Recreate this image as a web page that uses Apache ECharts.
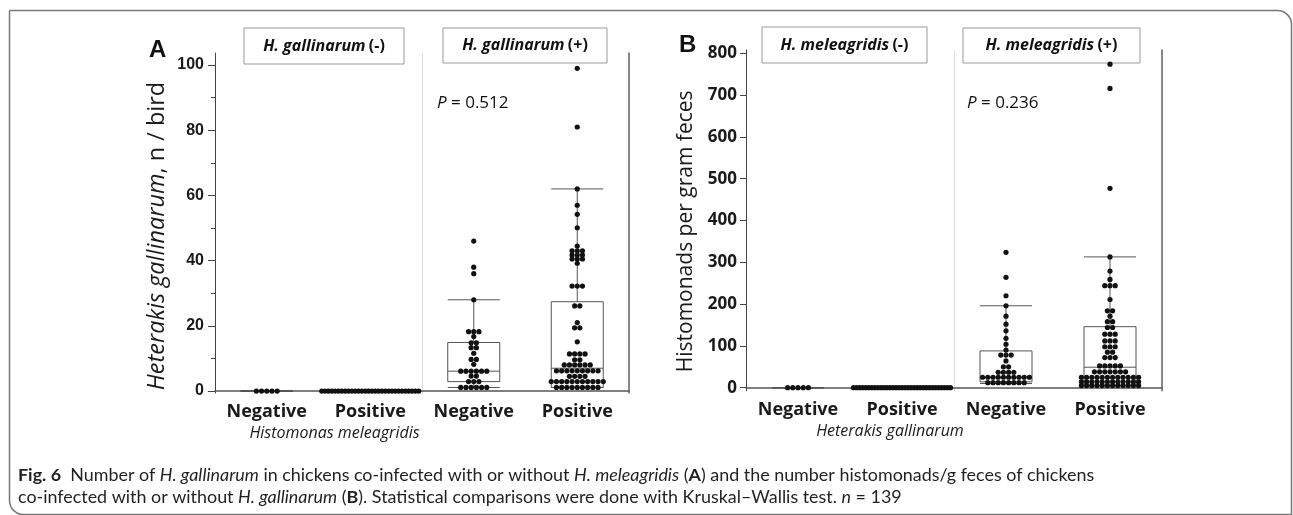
<!DOCTYPE html>
<html>
<head>
<meta charset="utf-8">
<script src="https://cdn.jsdelivr.net/npm/echarts@6/dist/echarts.min.js"></script>
<style>
  html, body { margin: 0; padding: 0; background: #fff; }
  #chart { width: 1293px; height: 515px; }
</style>
</head>
<body>
<div id="chart"></div>
<script>
// x categories (same in both panels)
const categories = ['Negative', 'Positive', 'Negative', 'Positive'];

// panel A: Heterakis gallinarum, n / bird
const aTicks = [0, 20, 40, 60, 80, 100];
const aMinorTicks = [10, 30, 50, 70, 90];
const aGalNegMelNeg = [0, 0, 0, 0, 0];
const aGalNegMelPos = [0, 0, 0, 0, 0, 0, 0, 0, 0, 0, 0, 0, 0, 0, 0, 0, 0, 0, 0, 0, 0, 0, 0, 0, 0, 0, 0, 0, 0, 0];
const aGalPosMelNeg = [46, 38, 36, 28, 18.2, 18.2, 18.2, 16.7, 14.8, 14.8, 13.3, 13.3, 11.6, 9.7, 9.7, 8.2,
  6.1, 6.1, 6.1, 6.1, 6.1, 6.1, 4.6, 4.6, 2.9, 2.9, 2.9, 1.1, 1.1, 1.1, 1.1, 1.1, 1.1];
const aGalPosMelPos = [99, 81, 62, 57, 54.2, 50.1, 44.5, 43, 43, 43, 41.7, 41.7, 41.7, 40.5, 40.5, 40.5, 39.2,
  32.2, 32.2, 32.2, 26.1, 26.1, 21, 19.4, 19.4, 15.1, 11.4, 11.4, 11.4, 11.4, 9.6, 9.6,
  8, 8, 8, 8, 8, 8, 6.2, 6.2, 6.2, 6.2, 6.2, 6.2, 6.2, 6.2, 6.2, 4.5, 4.5, 4.5, 4.5,
  2.9, 2.9, 2.9, 2.9, 2.9, 2.9, 2.9, 2.9, 2.9, 2.9, 2.9, 1.1, 1.1, 1.1, 1.1, 1.1, 1.1, 1.1, 1.1, 1.1];
// [min, Q1, median, Q3, max]
const aBoxes = [[0, 0, 0, 0, 0], [0, 0, 0, 0, 0], [1.1, 2.9, 6.1, 14.9, 28], [1.1, 1.1, 7, 27.4, 62]];

// panel B: Histomonads per gram feces
const bTicks = [0, 100, 200, 300, 400, 500, 600, 700, 800];
const bMelNegGalNeg = [0, 0, 0, 0, 0];
const bMelNegGalPos = [0, 0, 0, 0, 0, 0, 0, 0, 0, 0, 0, 0, 0, 0, 0, 0, 0, 0, 0, 0, 0, 0, 0, 0, 0, 0, 0, 0, 0, 0, 0, 0, 0];
const bMelPosGalNeg = [324, 264, 220, 196, 171, 152, 136, 118, 104, 90, 78, 78, 78, 64, 50, 50, 37, 37, 37, 37,
  25, 25, 25, 25, 25, 25, 25, 25, 25, 25, 12, 12, 12, 12, 12, 12, 12, 12];
const bMelPosGalPos = [774, 716, 477, 313, 279, 259, 244, 244, 244, 211, 184, 184, 171, 158, 158, 144, 144,
  128, 128, 128, 112, 112, 112, 98, 98, 98, 85, 85, 72, 72, 72, 52, 52, 52, 52, 52,
  38, 38, 38, 38, 38, 38, 38, 25, 25, 25, 25, 25, 25, 25, 25, 25, 25, 25, 25,
  14, 14, 14, 14, 14, 14, 14, 14, 14, 14, 14, 14, 5, 5, 5, 5, 5, 5, 5, 5, 5, 5, 5, 5];
const bBoxes = [[0, 0, 0, 0, 0], [0, 0, 0, 0, 0], [10, 14, 25, 88, 196], [5, 5, 49, 146, 313]];

// beeswarm rows: [category, value, position in row, row size]
function swarm(groups) {
  const out = [];
  groups.forEach((vals, c) => {
    const counts = {};
    vals.forEach(v => { counts[v] = (counts[v] || 0) + 1; });
    const seen = {};
    vals.forEach(v => {
      seen[v] = seen[v] || 0;
      out.push([c, v, seen[v], counts[v]]);
      seen[v]++;
    });
  });
  return out;
}

function renderDot(params, api) {
  const p = api.coord([api.value(0), api.value(1)]);
  const k = api.value(2), n = api.value(3);
  const step = n > 1 ? Math.min(5.2, 97 / (n - 1)) : 0;
  return {
    type: 'circle',
    shape: { cx: p[0] + (k - (n - 1) / 2) * step, cy: p[1], r: 2.6 },
    style: { fill: '#111' }
  };
}

const axisColor = '#444';
const tickFont = { fontWeight: 'bold', color: '#1a1a1a' };

function xAxisFor(grid, name, shift) {
  return {
    type: 'category', gridIndex: grid, data: categories,
    axisLine: { lineStyle: { color: '#555', width: 1.5 } },
    axisTick: { show: false },
    axisLabel: { interval: 0, margin: 10, fontSize: 18, fontWeight: 'bold', fontFamily: 'Open Sans', color: '#1a1a1a' },
    splitLine: { show: false },
    name: name, nameLocation: 'middle', nameGap: 31,
    nameTextStyle: { fontSize: 16, fontStyle: 'italic', fontFamily: 'Open Sans', color: '#1a1a1a', padding: [0, shift, 0, 0] }
  };
}
// hidden helper axis: its split line at 2 is the light divider between the (-) and (+) halves
function dividerAxis(grid) {
  return {
    type: 'value', gridIndex: grid, position: 'top', min: 0, max: 4, interval: 2,
    axisLine: { show: false }, axisTick: { show: false }, axisLabel: { show: false },
    splitLine: { show: true, lineStyle: { color: '#dcdcdc', width: 1 } }
  };
}

const chart = echarts.init(document.getElementById('chart'), null, { renderer: 'canvas' });

const rich = {
  bi: { fontWeight: 'bold', fontStyle: 'italic', fontSize: 16, fontFamily: 'Open Sans', fill: '#111' },
  b: { fontWeight: 'bold', fontSize: 16, fontFamily: 'Open Sans', fill: '#111' }
};
function header(x, y, w, h, species, sign) {
  return {
    type: 'group', z: 10,
    children: [
      { type: 'rect', shape: { x: x, y: y, width: w, height: h }, style: { fill: '#fff', stroke: '#999', lineWidth: 1 } },
      { type: 'text', x: x + w / 2, y: y + h / 2,
        style: { text: '{bi|' + species + '} {b|' + sign + '}', rich: rich, align: 'center', verticalAlign: 'middle' } }
    ]
  };
}
const capSize = 17.9;
const capRich = {
  b: { fontWeight: 'bold', fontSize: capSize, fontFamily: 'Lato', fill: '#231f20' },
  i: { fontStyle: 'italic', fontSize: capSize, fontFamily: 'Lato', fill: '#231f20' }
};

chart.setOption({
  animation: false,
  grid: [
    { left: 215, top: 53, width: 414, height: 340 },
    { left: 746, top: 50, width: 416, height: 340.7 }
  ],
  xAxis: [
    xAxisFor(0, 'Histomonas meleagridis', 175),
    xAxisFor(1, 'Heterakis gallinarum', 128),
    dividerAxis(0),
    dividerAxis(1)
  ],
  yAxis: [
    {
      type: 'value', gridIndex: 0, position: 'left', min: -0.6, max: 103.7,
      axisLine: { show: true, lineStyle: { color: axisColor } },
      axisTick: { show: true, length: 7, customValues: aTicks, lineStyle: { color: axisColor } },
      axisLabel: Object.assign({ customValues: aTicks, margin: 11, fontSize: 16, fontFamily: 'Liberation Sans' }, tickFont),
      splitLine: { show: false },
      name: '{i|Heterakis gallinarum}{n|, n / bird}', nameLocation: 'middle', nameRotate: 90, nameGap: 46,
      nameTextStyle: {
        padding: [0, 26, 0, 0],
        rich: {
          i: { fontStyle: 'italic', fontSize: 23.5, fontFamily: 'Open Sans', color: '#1a1a1a' },
          n: { fontSize: 23.5, fontFamily: 'Open Sans', color: '#1a1a1a' }
        }
      }
    },
    {
      type: 'value', gridIndex: 0, position: 'left', min: -0.6, max: 103.7,
      axisLine: { show: false },
      axisTick: { show: true, length: 4, customValues: aMinorTicks, lineStyle: { color: axisColor } },
      axisLabel: { show: false }, splitLine: { show: false }
    },
    {
      type: 'value', gridIndex: 0, position: 'right', min: -0.6, max: 103.7,
      axisLine: { show: true, lineStyle: { color: '#666', width: 1.5 } },
      axisTick: { show: false }, axisLabel: { show: false }, splitLine: { show: false }
    },
    {
      type: 'value', gridIndex: 1, position: 'left', min: -7.2, max: 808,
      axisLine: { show: true, lineStyle: { color: axisColor } },
      axisTick: { show: true, length: 6, customValues: bTicks, lineStyle: { color: axisColor } },
      axisLabel: Object.assign({ customValues: bTicks, margin: 9, fontSize: 17, fontFamily: 'Open Sans' }, tickFont),
      splitLine: { show: false },
      name: 'Histomonads per gram feces', nameLocation: 'middle', nameRotate: 90, nameGap: 49,
      nameTextStyle: { fontSize: 21, fontFamily: 'Open Sans', color: '#1a1a1a', padding: [0, 22, 0, 0] }
    },
    {
      type: 'value', gridIndex: 1, position: 'right', min: -7.2, max: 808,
      axisLine: { show: true, lineStyle: { color: '#666', width: 1.5 } },
      axisTick: { show: false }, axisLabel: { show: false }, splitLine: { show: false }
    }
  ],
  series: [
    {
      type: 'boxplot', xAxisIndex: 0, yAxisIndex: 0, data: aBoxes, boxWidth: [52, 52], silent: true, z: 2,
      itemStyle: { color: 'rgba(0,0,0,0)', borderColor: '#555', borderWidth: 1 }
    },
    {
      type: 'custom', xAxisIndex: 0, yAxisIndex: 0, z: 3, silent: true, renderItem: renderDot,
      data: swarm([aGalNegMelNeg, aGalNegMelPos, aGalPosMelNeg, aGalPosMelPos])
    },
    {
      type: 'boxplot', xAxisIndex: 1, yAxisIndex: 3, data: bBoxes, boxWidth: [52, 52], silent: true, z: 2,
      itemStyle: { color: 'rgba(0,0,0,0)', borderColor: '#555', borderWidth: 1 }
    },
    {
      type: 'custom', xAxisIndex: 1, yAxisIndex: 3, z: 3, silent: true, renderItem: renderDot,
      data: swarm([bMelNegGalNeg, bMelNegGalPos, bMelPosGalNeg, bMelPosGalPos])
    }
  ],
  graphic: [
    { type: 'rect', shape: { x: 9.5, y: 10.5, width: 1282, height: 504, r: [0, 14, 0, 14] },
      style: { fill: 'none', stroke: '#777', lineWidth: 1.5 } },
    header(244, 28, 160, 36, 'H. gallinarum', '(-)'),
    header(443, 28, 164, 35, 'H. gallinarum', '(+)'),
    header(762, 27, 165, 36, 'H. meleagridis', '(-)'),
    header(963, 28, 177, 35, 'H. meleagridis', '(+)'),
    { type: 'text', x: 149, y: 38, style: { text: 'A', fontSize: 24, fontWeight: 'bold', fontFamily: 'Liberation Sans', fill: '#111' } },
    { type: 'text', x: 679, y: 33, style: { text: 'B', fontSize: 24, fontWeight: 'bold', fontFamily: 'Liberation Sans', fill: '#111' } },
    { type: 'text', x: 437, y: 103,
      style: { text: '{i|P} = 0.512', verticalAlign: 'middle', fontSize: 17, fontFamily: 'Open Sans', fill: '#111',
        rich: { i: { fontStyle: 'italic', fontSize: 17, fontFamily: 'Open Sans', fill: '#111' } } } },
    { type: 'text', x: 967, y: 103,
      style: { text: '{i|P} = 0.236', verticalAlign: 'middle', fontSize: 17, fontFamily: 'Open Sans', fill: '#111',
        rich: { i: { fontStyle: 'italic', fontSize: 17, fontFamily: 'Open Sans', fill: '#111' } } } },
    { type: 'text', x: 18, y: 475,
      style: { text: '{b|Fig. 6}  Number of {i|H. gallinarum} in chickens co-infected with or without {i|H. meleagridis} ({b|A}) and the number histomonads/g feces of chickens',
        verticalAlign: 'middle', fontSize: capSize, fontFamily: 'Lato', fill: '#231f20', rich: capRich } },
    { type: 'text', x: 18, y: 497,
      style: { text: 'co-infected with or without {i|H. gallinarum} ({b|B}). Statistical comparisons were done with Kruskal–Wallis test. {i|n} = 139',
        verticalAlign: 'middle', fontSize: capSize, fontFamily: 'Lato', fill: '#231f20', rich: capRich } }
  ]
});
</script>
</body>
</html>
